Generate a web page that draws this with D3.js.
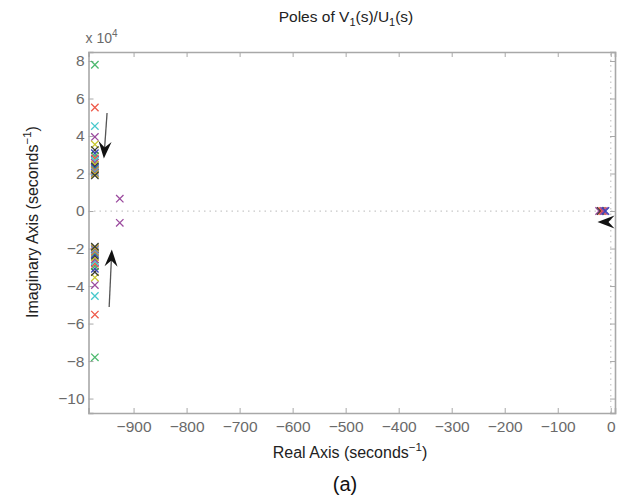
<!DOCTYPE html>
<html>
<head>
<meta charset="utf-8">
<script src="https://cdn.jsdelivr.net/npm/d3@7"></script>
<style>
  body { margin: 0; background: #fff; }
  text { font-family: "Liberation Sans", Arial, Helvetica, sans-serif; }
</style>
</head>
<body>
<div id="chart"></div>
<script>
// pole locations (real in 1/s, imag in 1/s)
var colPolesImag = [78000, 55200, 45300, 39500, 35500, 32500, 30800, 29300, 28000, 26800,
                    25700, 24700, 23800, 23000, 22200, 21500, 20800, 20200, 19600, 19000];
var colPolesReal = -973;
var colColors = ["g", "r", "c", "m", "y", "k", "b", "g", "r", "c",
                 "m", "y", "k", "b", "g", "r", "c", "m", "y", "k"];
var pairReal = -926, pairImag = [6600, -6300], pairColor = "m";
var realPoles = [-22, -19, -16, -13, -10];
var realColors = ["m", "k", "r", "m", "b"];
var xTicks = [-900, -800, -700, -600, -500, -400, -300, -200, -100, 0];
var yTicks = [-100000, -80000, -60000, -40000, -20000, 0, 20000, 40000, 60000, 80000];
// annotation arrows [x0, y0, x1, y1] in data units, head at (x1, y1)
var arrows = [[-950, 52300, -956, 28000], [-946, -51200, -941, -20500]];
var headOnly = [-25, -5900];

var palette = { b: "#3a45b8", g: "#4cb96e", r: "#ef5a4a", c: "#47c8cc", m: "#9b4a9e", y: "#c9c830", k: "#3a3a32" };

var W = 625, H = 500;
var svg = d3.select("#chart").append("svg").attr("width", W).attr("height", H);

var x = d3.scaleLinear().domain([-985, 8]).range([88.5, 615]);
var y = d3.scaleLinear().domain([-107700, 84800]).range([413, 52]);

var axisCol = "#a8a8a8", labCol = "#6a6a6a";

// dotted zero lines
svg.append("line").attr("x1", x.range()[0]).attr("x2", x.range()[1])
  .attr("y1", y(0)).attr("y2", y(0))
  .attr("stroke", "#c8c8c8").attr("stroke-dasharray", "1.5,4").attr("stroke-width", 1.2);
svg.append("line").attr("x1", x(0)).attr("x2", x(0))
  .attr("y1", y.range()[0]).attr("y2", y.range()[1])
  .attr("stroke", "#c8c8c8").attr("stroke-dasharray", "1.5,4").attr("stroke-width", 1.2);

var fmtMinus = function(v) { return v < 0 ? "\u2212" + Math.abs(v) : "" + v; };

// axes (ticks inside, matlab style)
var gx = svg.append("g").attr("transform", "translate(0," + y.range()[0] + ")")
  .call(d3.axisBottom(x).tickValues(xTicks).tickSize(-5).tickPadding(8).tickFormat(fmtMinus));
var gxt = svg.append("g").attr("transform", "translate(0," + y.range()[1] + ")")
  .call(d3.axisTop(x).tickValues(xTicks).tickSize(-5).tickFormat(""));
var gy = svg.append("g").attr("transform", "translate(" + x.range()[0] + ",0)")
  .call(d3.axisLeft(y).tickValues(yTicks).tickSize(-5).tickPadding(4)
    .tickFormat(function(d) { return fmtMinus(d / 1e4); }));
var gyr = svg.append("g").attr("transform", "translate(" + x.range()[1] + ",0)")
  .call(d3.axisRight(y).tickValues(yTicks).tickSize(-5).tickFormat(""));

[gx, gxt, gy, gyr].forEach(function(g) {
  g.select(".domain").attr("stroke", axisCol).attr("stroke-width", 1.6);
  g.selectAll(".tick line").attr("stroke", axisCol).attr("stroke-width", 1);
  g.selectAll(".tick text").attr("fill", labCol).attr("font-size", 15.5)
    .attr("font-family", "Liberation Sans, Arial, sans-serif");
});

// x 10^4 multiplier
var mult = svg.append("text").attr("x", x.range()[0] - 3).attr("y", 43)
  .attr("fill", labCol).attr("font-size", 14);
mult.append("tspan").text("x 10");
mult.append("tspan").attr("dy", -6).attr("font-size", 10).text("4");

// pole markers
function cross(g, cx, cy, col) {
  var s = 3.7;
  g.append("path")
    .attr("d", "M" + (cx - s) + "," + (cy - s) + "L" + (cx + s) + "," + (cy + s) +
               "M" + (cx - s) + "," + (cy + s) + "L" + (cx + s) + "," + (cy - s))
    .attr("stroke", palette[col]).attr("stroke-width", 1.3).attr("fill", "none");
}
var pg = svg.append("g");
colPolesImag.forEach(function(v, i) {
  cross(pg, x(colPolesReal), y(v), colColors[i]);
  cross(pg, x(colPolesReal), y(-v), colColors[i]);
});
pairImag.forEach(function(v) { cross(pg, x(pairReal), y(v), pairColor); });
realPoles.forEach(function(v, i) { cross(pg, x(v), y(0), realColors[i]); });

// arrows
function head(g, tx, ty, ang) {
  // concave arrow head, tip at (tx,ty), pointing along ang
  var L = 17, Wd = 6.5, back = 11;
  var pts = [[0, 0], [-L, -Wd], [-back, 0], [-L, Wd]].map(function(p) {
    return [tx + p[0] * Math.cos(ang) - p[1] * Math.sin(ang),
            ty + p[0] * Math.sin(ang) + p[1] * Math.cos(ang)];
  });
  g.append("path").attr("d", "M" + pts.join("L") + "Z").attr("fill", "#111");
}
var ag = svg.append("g");
arrows.forEach(function(a) {
  var x0 = x(a[0]), y0 = y(a[1]), x1 = x(a[2]), y1 = y(a[3]);
  var ang = Math.atan2(y1 - y0, x1 - x0);
  ag.append("line").attr("x1", x0).attr("y1", y0)
    .attr("x2", x1 - 9 * Math.cos(ang)).attr("y2", y1 - 9 * Math.sin(ang))
    .attr("stroke", "#555").attr("stroke-width", 1.3);
  head(ag, x1, y1, ang);
});
head(ag, x(headOnly[0]), y(headOnly[1]), Math.PI);

// title and labels
var t = svg.append("text").attr("x", 346).attr("y", 22).attr("text-anchor", "middle")
  .attr("font-size", 15.5).attr("fill", "#222");
t.append("tspan").text("Poles of V");
t.append("tspan").attr("dy", 4).attr("font-size", 11).text("1");
t.append("tspan").attr("dy", -4).text("(s)/U");
t.append("tspan").attr("dy", 4).attr("font-size", 11).text("1");
t.append("tspan").attr("dy", -4).text("(s)");

var xl = svg.append("text").attr("x", 350).attr("y", 458).attr("text-anchor", "middle")
  .attr("font-size", 16).attr("fill", "#222");
xl.append("tspan").text("Real Axis (seconds");
xl.append("tspan").attr("dy", -7).attr("font-size", 11.5).text("\u22121");
xl.append("tspan").attr("dy", 7).text(")");

var yl = svg.append("text").attr("transform", "translate(38,222) rotate(-90)")
  .attr("text-anchor", "middle").attr("font-size", 16).attr("fill", "#222");
yl.append("tspan").text("Imaginary Axis (seconds");
yl.append("tspan").attr("dy", -7).attr("font-size", 11.5).text("\u22121");
yl.append("tspan").attr("dy", 7).text(")");

svg.append("text").attr("x", 345).attr("y", 491).attr("text-anchor", "middle")
  .attr("font-family", "Liberation Serif, Times New Roman, serif")
  .attr("font-size", 20).attr("fill", "#111").text("(a)");
</script>
</body>
</html>
